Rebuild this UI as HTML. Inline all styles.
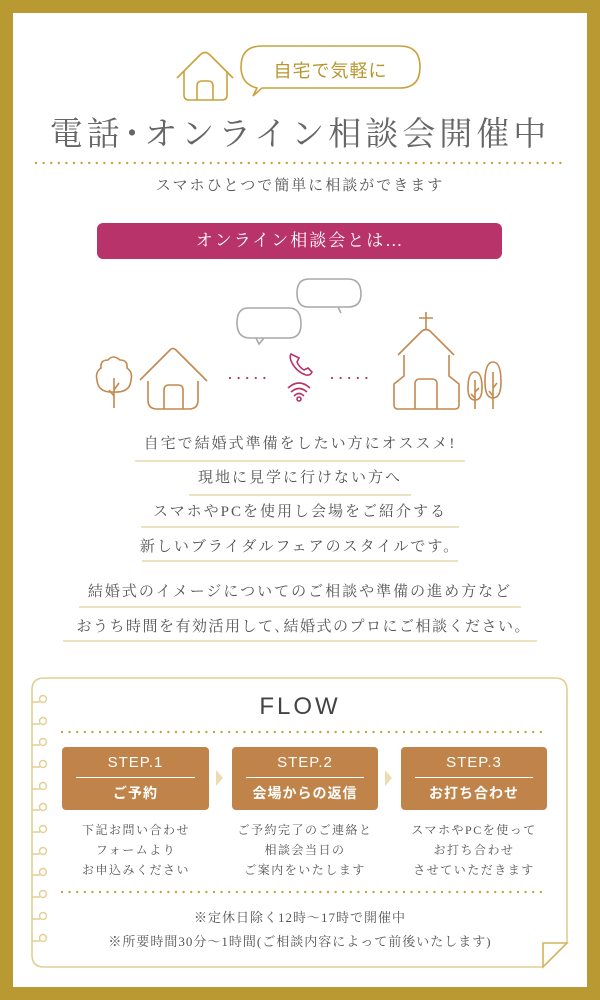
<!DOCTYPE html>
<html><head><meta charset="utf-8"><style>
*{margin:0;padding:0;box-sizing:border-box}
body{width:600px;height:1000px;background:#b99a32;position:relative;overflow:hidden;font-family:"Liberation Serif","Noto Serif CJK SC","Noto Sans CJK JP",serif;color:#555}
#in{position:absolute;left:13px;top:13px;width:574px;height:974px;background:#fff}
.t{position:absolute;left:0;width:600px;text-align:center;white-space:nowrap}
.ul{position:absolute;height:2px;background:#ece0bd}
.step{position:absolute;top:747px;height:63px;background:#c0844b;border-radius:4px;color:#fff;text-align:center;font-family:"Liberation Sans","Noto Sans CJK JP",sans-serif}
.step .a{font-size:15px;margin-top:7px;height:18px;line-height:18px;letter-spacing:1px}
.step .l{height:1px;background:#fff;margin:5px 14px 0}
.step .b{font-size:14px;font-weight:bold;margin-top:5px;letter-spacing:1px}
.d{position:absolute;top:820px;width:150px;text-align:center;font-size:12px;line-height:20px;letter-spacing:1.5px;color:#555}
</style></head><body>
<div id="in"></div>
<svg style="position:absolute;left:0;top:0" width="600" height="1000">
<!-- top house -->
<g fill="none" stroke="#c9a33a" stroke-width="1.6">
<path d="M177 78 L200 55 Q205 50 210 55 L233 78"/>
<path d="M184 71 V95 Q184 100 189 100 H222 Q227 100 227 95 V71"/>
<path d="M197 100 V86 Q197 81 202 81 H208 Q213 81 213 86 V100"/>
<path d="M262 88 H400 Q420 88 420 67 Q420 46 400 46 H262 Q241 46 241 67 Q241 84 257 88 L253 96 Z" fill="#fff"/>
</g>
<!-- dotted lines -->
<line x1="36" y1="163" x2="565" y2="163" stroke="#c9a33a" stroke-width="2.4" stroke-linecap="round" stroke-dasharray="0 7.6"/>
<line x1="62" y1="732" x2="545" y2="732" stroke="#c9a33a" stroke-width="2.4" stroke-linecap="round" stroke-dasharray="0 7.6"/>
<line x1="62" y1="892" x2="545" y2="892" stroke="#c9a33a" stroke-width="2.4" stroke-linecap="round" stroke-dasharray="0 7.6"/>
<!-- magenta bar -->
<rect x="97" y="223" width="405" height="36" rx="6" fill="#b9336b"/>
<!-- illustration -->
<g fill="none" stroke="#c4894f" stroke-width="1.6">
<path d="M114 408 V378 M114 390 L119 383 M114 396 L109 390"/>
<path d="M114 392 Q98 393 97 380 Q95 372 101 368 Q100 360 108 360 Q113 354 120 360 Q128 360 127 368 Q133 372 131 380 Q130 393 114 392"/>
<path d="M140 380 L170 350 Q173 347 176 350 L207 381"/>
<path d="M148 381 V400 Q148 409 157 409 H189 Q198 409 198 400 V381"/>
<path d="M164 409 V390 Q164 385 169 385 H178 Q183 385 183 390 V409"/>
<path d="M426 312 V330 M419 318 H433"/>
<path d="M398 355 L422 331 Q426 328 430 331 L454 355"/>
<path d="M404 355 V376 L394 384 V405 Q394 409 398 409 H455 Q459 409 459 405 V384 L449 376 V355"/>
<path d="M415 409 V384 Q415 379 420 379 H432 Q437 379 437 384 V409"/>
<path d="M475 409 V380 M475 392 L479 388 M475 398 L471 394"/>
<path d="M475 372 Q468 372 468 388 Q468 400 475 400 Q482 400 482 388 Q482 372 475 372"/>
<path d="M493 409 V372 M493 388 L497 383 M493 396 L489 391"/>
<path d="M493 362 Q485 362 485 382 Q485 398 493 398 Q501 398 501 382 Q501 362 493 362"/>
</g>
<g fill="none" stroke="#a9a9a9" stroke-width="1.6">
<path d="M250 338 H289 Q301 338 301 324 Q301 308 289 308 H248 Q237 308 237 323 Q237 338 250 338 L256 338 L259 344 L264 338"/>
<path d="M308 307 H348 Q361 307 361 294 Q361 279 348 279 H309 Q297 279 297 293 Q297 307 308 307 M338 307 L341 313"/>
</g>
<g stroke="#b9336b" fill="none" stroke-width="1.6">
<line x1="230" y1="378" x2="270" y2="378" stroke-width="2.2" stroke-linecap="round" stroke-dasharray="0 8.6"/>
<line x1="332" y1="378" x2="372" y2="378" stroke-width="2.2" stroke-linecap="round" stroke-dasharray="0 8.6"/>
<path d="M291 354 Q289 357 292 363 Q297 372 306 375 Q310 376 312 372 L308 368 L304 370 Q299 367 297 362 L299 358 Z"/>
<path d="M288 388 Q299 378 310 388 M291 392 Q299 385 307 392 M294 396 Q299 391 304 396"/>
<circle cx="299" cy="399" r="2"/>
</g>
<!-- flow box -->
<g fill="none" stroke="#e2cf93" stroke-width="1.6">
<path d="M567 943 V690 Q567 678 555 678 H44 Q32 678 32 690 V955 Q32 967 44 967 H543"/>
<path d="M543 967 V943 H567 Z" stroke="#d4b45a" fill="#fff"/>
</g>
<g fill="#fff" stroke="#e2cf93" stroke-width="1.4">
<path d="M32 702 H40 M32 724 H40 M32 745 H40 M32 767 H40 M32 789 H40 M32 810 H40 M32 832 H40 M32 854 H40 M32 875 H40 M32 897 H40 M32 919 H40 M32 941 H40"/>
<circle cx="43" cy="699" r="3.5"/><circle cx="43" cy="721" r="3.5"/><circle cx="43" cy="742" r="3.5"/><circle cx="43" cy="764" r="3.5"/><circle cx="43" cy="786" r="3.5"/><circle cx="43" cy="807" r="3.5"/><circle cx="43" cy="829" r="3.5"/><circle cx="43" cy="851" r="3.5"/><circle cx="43" cy="872" r="3.5"/><circle cx="43" cy="894" r="3.5"/><circle cx="43" cy="916" r="3.5"/><circle cx="43" cy="938" r="3.5"/>
</g>
<path d="M216 770 L223 778 L216 786 Z" fill="#ecdcb0"/>
<path d="M385 770 L392 778 L385 786 Z" fill="#ecdcb0"/>
</svg>

<div class="t" style="left:241px;width:179px;top:57px;font-size:18px;color:#b8962e;letter-spacing:1px;font-family:'Liberation Sans','Noto Sans CJK JP',sans-serif">自宅で気軽に</div>
<div class="t" style="top:113px;font-size:33px;color:#666;letter-spacing:4px;line-height:44px">電話･オンライン相談会開催中</div>
<div class="t" style="top:174px;font-size:15px;letter-spacing:2px;color:#555">スマホひとつで簡単に相談ができます</div>
<div class="t" style="top:229px;font-size:17px;color:#fff;letter-spacing:2px;line-height:24px">オンライン相談会とは…</div>

<div class="t" style="top:432px;font-size:15px;letter-spacing:2px">自宅で結婚式準備をしたい方にオススメ!</div>
<div class="ul" style="left:135px;width:330px;top:460px"></div>
<div class="t" style="top:466px;font-size:15px;letter-spacing:2px">現地に見学に行けない方へ</div>
<div class="ul" style="left:189px;width:222px;top:494px"></div>
<div class="t" style="top:500px;font-size:15px;letter-spacing:2px">スマホやPCを使用し会場をご紹介する</div>
<div class="ul" style="left:141px;width:318px;top:526px"></div>
<div class="t" style="top:535px;font-size:15px;letter-spacing:2px">新しいブライダルフェアのスタイルです。</div>
<div class="ul" style="left:142px;width:316px;top:560px"></div>
<div class="t" style="top:580px;font-size:15px;letter-spacing:2px">結婚式のイメージについてのご相談や準備の進め方など</div>
<div class="ul" style="left:79px;width:442px;top:606px"></div>
<div class="t" style="top:615px;font-size:15px;letter-spacing:1.5px">おうち時間を有効活用して､結婚式のプロにご相談ください｡</div>
<div class="ul" style="left:63px;width:474px;top:640px"></div>

<div class="t" style="top:693px;font-size:24px;letter-spacing:3px;color:#444;font-family:'Liberation Sans',sans-serif">FLOW</div>

<div class="step" style="left:62px;width:147px"><div class="a">STEP.1</div><div class="l"></div><div class="b">ご予約</div></div>
<div class="step" style="left:232px;width:146px"><div class="a">STEP.2</div><div class="l"></div><div class="b">会場からの返信</div></div>
<div class="step" style="left:401px;width:146px"><div class="a">STEP.3</div><div class="l"></div><div class="b">お打ち合わせ</div></div>

<div class="d" style="left:61px">下記お問い合わせ<br>フォームより<br>お申込みください</div>
<div class="d" style="left:230px">ご予約完了のご連絡と<br>相談会当日の<br>ご案内をいたします</div>
<div class="d" style="left:399px">スマホやPCを使って<br>お打ち合わせ<br>させていただきます</div>

<div class="t" style="top:907px;font-size:13px;letter-spacing:1px">※定休日除く12時～17時で開催中</div>
<div class="t" style="top:931px;font-size:13px;letter-spacing:1px">※所要時間30分～1時間(ご相談内容によって前後いたします)</div>
</body></html>
